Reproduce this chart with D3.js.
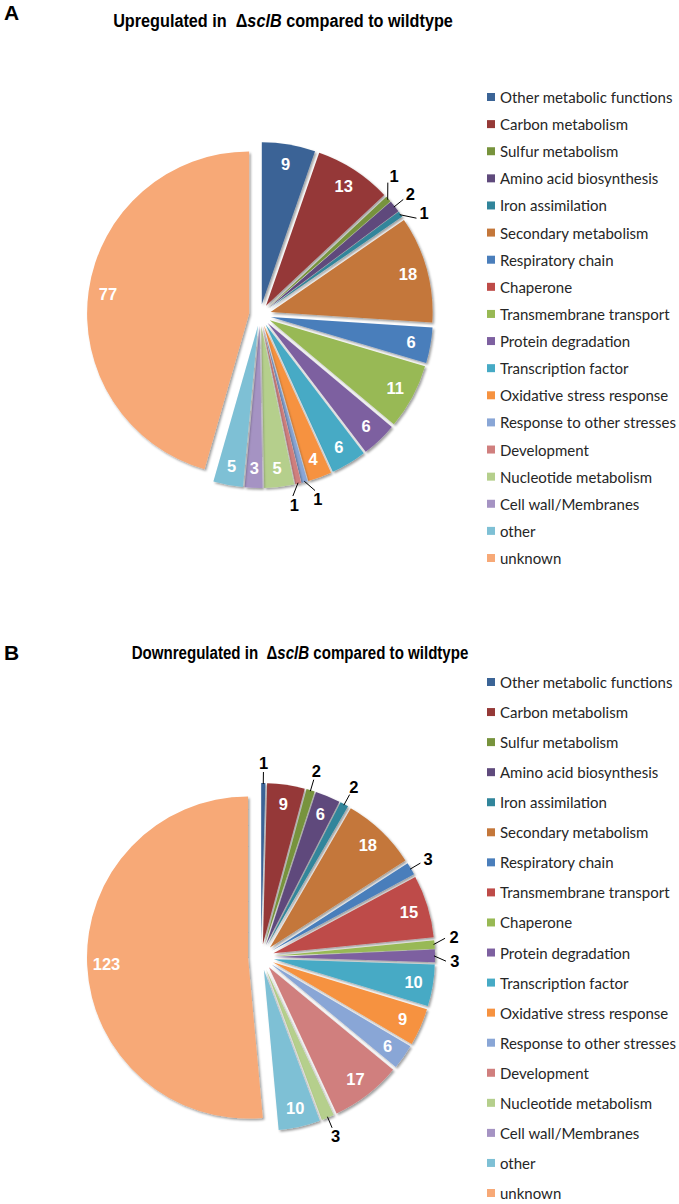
<!DOCTYPE html>
<html><head><meta charset="utf-8">
<script src="https://cdn.jsdelivr.net/npm/d3@7"></script>
<style>body{margin:0;background:#fff}</style>
</head><body>
<svg id="chart" width="679" height="1204" xmlns="http://www.w3.org/2000/svg"></svg>
<script>
// ---------- data ----------
const categoriesA = ["Other metabolic functions","Carbon metabolism","Sulfur metabolism","Amino acid biosynthesis","Iron assimilation","Secondary metabolism","Respiratory chain","Chaperone","Transmembrane transport","Protein degradation","Transcription factor","Oxidative stress response","Response to other stresses","Development","Nucleotide metabolism","Cell wall/Membranes","other","unknown"];
const valuesA = [9,13,1,2,1,18,6,0,11,6,6,4,1,1,5,3,5,77];

const categoriesB = ["Other metabolic functions","Carbon metabolism","Sulfur metabolism","Amino acid biosynthesis","Iron assimilation","Secondary metabolism","Respiratory chain","Transmembrane transport","Chaperone","Protein degradation","Transcription factor","Oxidative stress response","Response to other stresses","Development","Nucleotide metabolism","Cell wall/Membranes","other","unknown"];
const valuesB = [1,9,2,6,2,18,3,15,2,3,10,9,6,17,3,0,10,123];

const palette = ["#3B6496","#953937","#77933C","#5F4A7C","#31859B","#C4773A",
                 "#4A7EBB","#BE4B48","#98B954","#7D60A0","#46AAC5","#F69240",
                 "#89A6D6","#D07F7E","#B5CF8C","#A593C3","#7EC0D5","#F7A977"];

const panelLetters = ["A","B"];
const titlePre = ["Upregulated in  \u0394","Downregulated in  \u0394"];
const titleItalic = "sclB";
const titlePost = " compared to wildtype";

// ---------- layout ----------
const svg = d3.select("#chart");
svg.append("rect").attr("width",679).attr("height",1204).attr("fill","#fff");

const defs = svg.append("defs");
const f = defs.append("filter").attr("id","sh").attr("x","-20%").attr("y","-20%").attr("width","140%").attr("height","140%");
f.append("feDropShadow").attr("dx",1.6).attr("dy",1.8).attr("stdDeviation",1.3)
  .attr("flood-color","#000").attr("flood-opacity",0.38);

const panels = [
  {cats:categoriesA, vals:valuesA, cx:260, cy:315, r:162, d:11, titleY:27, titleX:283, titleW:340, letterY:20, legY0:97, legY1:558},
  {cats:categoriesB, vals:valuesB, cx:261, cy:957, r:161, d:13, titleY:659, titleX:300, titleW:337, letterY:660, legY0:682, legY1:1193}
];

panels.forEach((p, pi) => {
  const g = svg.append("g");
  g.append("text").attr("x",4).attr("y",p.letterY).text(panelLetters[pi])
    .attr("font-family","Liberation Sans, Arial, sans-serif").attr("font-weight","bold")
    .attr("font-size",21).attr("fill","#000");
  // title: condensed bold via horizontal scale of the group
  const tg = g.append("g");
  const t = tg.append("text").attr("x",0).attr("y",0).attr("text-anchor","middle")
    .attr("font-family","Liberation Sans, Arial, sans-serif").attr("font-weight","bold")
    .attr("font-size",19).attr("fill","#000").style("white-space","pre");
  t.append("tspan").text(titlePre[pi]);
  t.append("tspan").attr("font-style","italic").text(titleItalic);
  t.append("tspan").text(titlePost);
  const tw = t.node().getComputedTextLength();
  tg.attr("transform",`translate(${p.titleX},${p.titleY}) scale(${p.titleW/tw},1)`);

  const data = p.cats.map((c,i)=>({cat:c, v:p.vals[i], i}));
  const pie = d3.pie().sort(null).value(d=>d.v).startAngle(0).endAngle(2*Math.PI);
  const arcs = pie(data);
  const arc = d3.arc().innerRadius(0).outerRadius(p.r);
  const color = d3.scaleOrdinal().domain(d3.range(palette.length)).range(palette);

  const pg = g.append("g").attr("transform",`translate(${p.cx},${p.cy})`);
  const vis = arcs.filter(a=>a.data.v>0);
  const mid = a => (a.startAngle + a.endAngle)/2;
  const off = a => [Math.sin(mid(a))*p.d, -Math.cos(mid(a))*p.d];

  pg.selectAll("path.slice").data(vis).join("path").attr("class","slice")
    .attr("d",arc)
    .attr("transform",a=>`translate(${off(a)[0]},${off(a)[1]})`)
    .attr("fill",a=>color(a.data.i))
    .attr("filter","url(#sh)");

  const minInside = 6*Math.PI/180;
  const inside = vis.filter(a=>a.endAngle-a.startAngle>=minInside);
  const outside = vis.filter(a=>a.endAngle-a.startAngle<minInside);
  pg.selectAll("text.in").data(inside).join("text").attr("class","in")
    .attr("x",a=>off(a)[0] + Math.sin(mid(a))*p.r*0.88)
    .attr("y",a=>off(a)[1] - Math.cos(mid(a))*p.r*0.88)
    .attr("text-anchor","middle").attr("dominant-baseline","central")
    .attr("font-family","Liberation Sans, Arial, sans-serif").attr("font-weight","bold")
    .attr("font-size",16.5).attr("fill","#fff")
    .text(a=>a.data.v);

  const Rl = p.r + p.d + 20;
  const minSep = 24/Rl;
  const ol = outside.map(a=>({a, ang:mid(a)})).sort((x,y)=>x.ang-y.ang);
  for (let it=0; it<50; it++) {
    for (let k=0;k<ol.length-1;k++){
      const diff = ol[k+1].ang-ol[k].ang;
      if (diff<minSep){ const s=(minSep-diff)/2; ol[k].ang-=s; ol[k+1].ang+=s; }
    }
  }
  pg.selectAll("line.lead").data(ol).join("line").attr("class","lead")
    .attr("x1",o=>Math.sin(mid(o.a))*(p.r+p.d-1))
    .attr("y1",o=>-Math.cos(mid(o.a))*(p.r+p.d-1))
    .attr("x2",o=>Math.sin(o.ang)*(p.r+p.d+11))
    .attr("y2",o=>-Math.cos(o.ang)*(p.r+p.d+11))
    .attr("stroke","#000").attr("stroke-width",1);
  pg.selectAll("text.out").data(ol).join("text").attr("class","out")
    .attr("x",o=>Math.sin(o.ang)*Rl)
    .attr("y",o=>-Math.cos(o.ang)*Rl)
    .attr("text-anchor","middle").attr("dominant-baseline","central")
    .attr("font-family","Liberation Sans, Arial, sans-serif").attr("font-weight","bold")
    .attr("font-size",16.5).attr("fill","#000")
    .text(o=>o.a.data.v);

  // legend
  const y = d3.scalePoint().domain(p.cats).range([p.legY0, p.legY1]);
  const lg = g.append("g");
  const rows = lg.selectAll("g").data(data).join("g").attr("transform",d=>`translate(0,${y(d.cat)})`);
  rows.append("rect").attr("x",487).attr("y",-4).attr("width",8).attr("height",8).attr("fill",d=>color(d.i));
  const txt = rows.append("text").attr("x",500).attr("y",0).attr("dominant-baseline","central")
    .attr("font-family","Lato, sans-serif").attr("font-size",14).attr("fill","#262626")
    .text(d=>d.cat);
  const longest = txt.filter(d=>d.cat==="Response to other stresses").node();
  const w = longest.getComputedTextLength();
  txt.attr("font-size", 14*176/w);
});
</script>
</body></html>
